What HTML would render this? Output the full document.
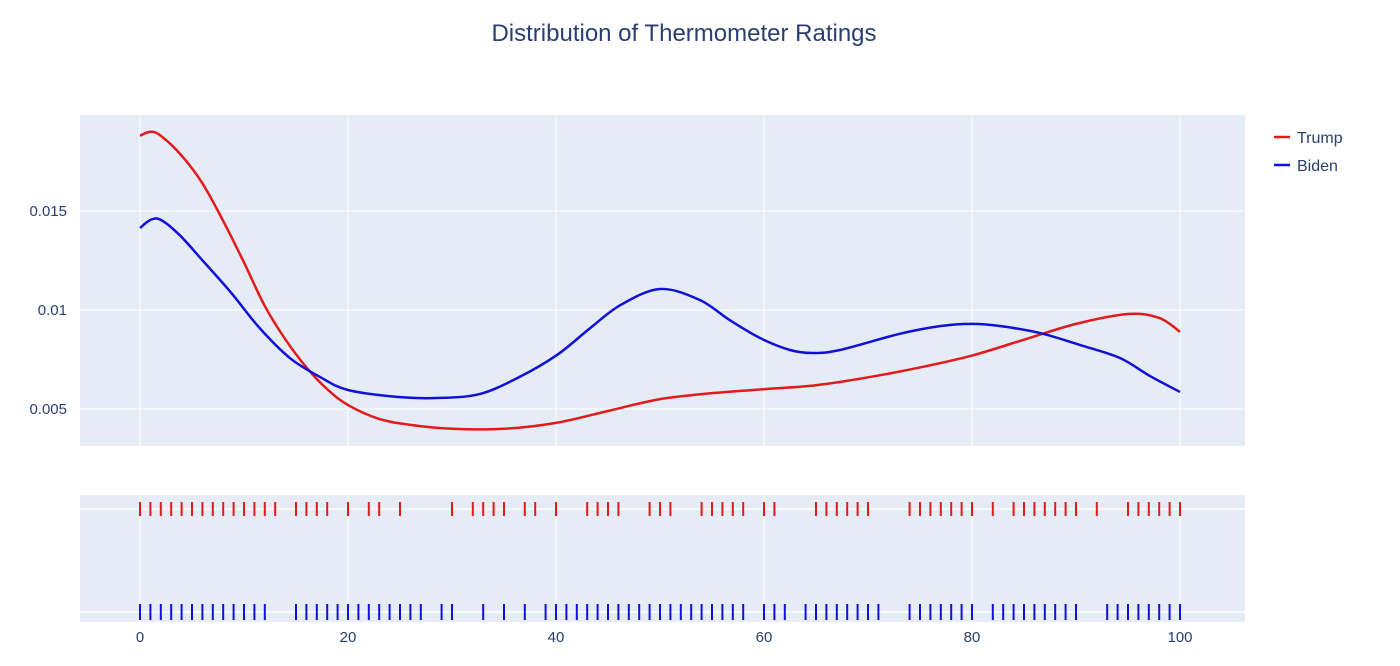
<!DOCTYPE html>
<html><head><meta charset="utf-8"><style>
body{margin:0;background:#fff;font-family:"Liberation Sans",sans-serif;}
svg text{font-family:"Liberation Sans",sans-serif;fill:#2a3f6f;}
</style></head><body>
<svg id="chart" width="1400" height="661">
<text x="684" y="41" text-anchor="middle" font-size="24">Distribution of Thermometer Ratings</text>
<rect x="80" y="115" width="1165" height="331" fill="#e5ecf6"/>
<rect x="80" y="495" width="1165" height="127" fill="#e5ecf6"/>
<g id="grid"></g>
<g id="marks"></g>
<g>
<line x1="1274" y1="137" x2="1290" y2="137" stroke="#e31a1c" stroke-width="2.5"/>
<text x="1297" y="143" font-size="16">Trump</text>
<line x1="1274" y1="165" x2="1290" y2="165" stroke="#1010d8" stroke-width="2.5"/>
<text x="1297" y="171" font-size="16">Biden</text>
</g>
</svg>
<script>
const trumpX=[0,1,2,4,6,8,10,12,14,16,18,20,23,26,30,35,40,45,50,55,60,65,70,75,80,85,90,95,98,100];
const trumpY=[.0188,.0190,.0188,.0178,.0164,.0145,.0124,.0102,.0085,.0071,.0060,.0052,.0045,.0042,.0040,.0040,.0043,.0049,.0055,.0058,.0060,.0062,.0066,.0071,.0077,.0085,.0093,.0098,.0096,.0089];
const bidenX=[0,1,2,3.8,5.8,8.7,11.5,14.4,17.3,20,25,28.8,32.7,36.5,40.1,43.3,46.2,50,53.8,56.7,59.6,62.5,64.7,67.3,73,77,80,82.7,86.5,90.4,94.2,97.1,100];
const bidenY=[.01414,.01455,.01455,.01379,.01263,.01091,.00909,.00758,.00662,.00596,.0056,.00556,.00576,.00662,.00773,.00909,.01025,.01106,.01051,.00949,.00859,.00798,.00783,.00798,.00879,.00919,.0093,.00919,.00884,.00823,.00758,.00667,.00586];
const trumpRug=[0,1,2,3,4,5,6,7,8,9,10,11,12,13,15,16,17,18,20,22,23,25,30,32,33,34,35,37,38,40,43,44,45,46,49,50,51,54,55,56,57,58,60,61,65,66,67,68,69,70,74,75,76,77,78,79,80,82,84,85,86,87,88,89,90,92,95,96,97,98,99,100];
const bidenRug=[0,1,2,3,4,5,6,7,8,9,10,11,12,15,16,17,18,19,20,21,22,23,24,25,26,27,29,30,33,35,37,39,40,41,42,43,44,45,46,47,48,49,50,51,52,53,54,55,56,57,58,60,61,62,64,65,66,67,68,69,70,71,74,75,76,77,78,79,80,82,83,84,85,86,87,88,89,90,93,94,95,96,97,98,99,100];
const xTicks=[0,20,40,60,80,100];
const yTicks=[0.005,0.01,0.015];
const yLabels=["0.005","0.01","0.015"];
const NS="http://www.w3.org/2000/svg";
const xs=v=>140+v*10.4;
const ys=v=>409-(v-0.005)*19800;
function mk(tag,attrs,parent,txt){const e=document.createElementNS(NS,tag);for(const k in attrs)e.setAttribute(k,attrs[k]);if(txt!==undefined)e.textContent=txt;parent.appendChild(e);return e;}
const grid=document.getElementById('grid'),marks=document.getElementById('marks');
xTicks.forEach(t=>{
 let l=mk('line',{x1:xs(t),x2:xs(t),y1:115,y2:446,stroke:'#fff','stroke-width':1},grid);
 
 
 let l2=mk('line',{x1:xs(t),x2:xs(t),y1:495,y2:622,stroke:'#fff','stroke-width':1},grid);
 
 
 let tx=mk('text',{x:xs(t),y:642,'text-anchor':'middle','font-size':15},grid,String(t));
 
 
});
yTicks.forEach((t,i)=>{
 let l=mk('line',{x1:80,x2:1245,y1:ys(t),y2:ys(t),stroke:'#fff','stroke-width':1},grid);
 
 
 let tx=mk('text',{x:67,y:ys(t)+5,'text-anchor':'end','font-size':15},grid,yLabels[i]);
 
 
});
[509,612].forEach(y=>{
 let l=mk('line',{x1:80,x2:1245,y1:y,y2:y,stroke:'#fff','stroke-width':1.5},grid);
 
 
});
function path(X,Y){const p=X.map((x,i)=>[xs(x),ys(Y[i])]);let d='M'+p[0][0]+','+p[0][1];
 for(let i=0;i<p.length-1;i++){const p0=p[Math.max(0,i-1)],p1=p[i],p2=p[i+1],p3=p[Math.min(p.length-1,i+2)];
 d+=' C'+(p1[0]+(p2[0]-p0[0])/6)+','+(p1[1]+(p2[1]-p0[1])/6)+' '+(p2[0]-(p3[0]-p1[0])/6)+','+(p2[1]-(p3[1]-p1[1])/6)+' '+p2[0]+','+p2[1];}return d;}
let tp=mk('path',{d:path(trumpX,trumpY),fill:'none',stroke:'#e31a1c','stroke-width':2.5},marks);


let bp=mk('path',{d:path(bidenX,bidenY),fill:'none',stroke:'#1010d8','stroke-width':2.5},marks);


trumpRug.forEach(v=>{
 let l=mk('line',{x1:xs(v),x2:xs(v),y1:502,y2:516,stroke:'#e31a1c','stroke-width':2},marks);
 
 
});
bidenRug.forEach(v=>{
 let l=mk('line',{x1:xs(v),x2:xs(v),y1:604,y2:620,stroke:'#1010d8','stroke-width':2},marks);
 
 
});
</script>
</body></html>
